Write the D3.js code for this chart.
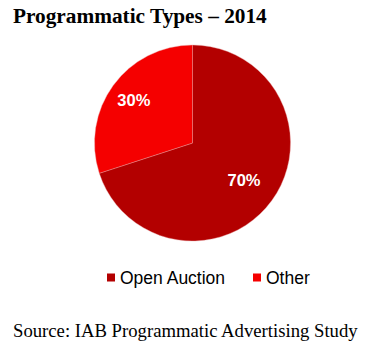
<!DOCTYPE html>
<html><head><meta charset="utf-8">
<script src="https://cdn.jsdelivr.net/npm/d3@7"></script>
<style>body{margin:0;background:#fff}</style>
</head><body>
<script>
const categories = ["Open Auction", "Other"];
const values = [70, 30];
const colors = ["#b30000", "#f50000"];
const title = "Programmatic Types – 2014";
const source = "Source: IAB Programmatic Advertising Study";

const W = 376, H = 355;
const svg = d3.select("body").append("svg").attr("width", W).attr("height", H);

function fitText(sel, width, base) {
  sel.attr("font-size", base);
  const len = sel.node().getComputedTextLength();
  sel.attr("font-size", base * width / len);
}

const t = svg.append("text").attr("x", 13).attr("y", 23)
  .attr("font-family", "'Liberation Serif', serif").attr("font-weight", "bold")
  .attr("fill", "#000").text(title);
fitText(t, 254, 17);

const cx = 192.5, cy = 143, r = 98;
const pie = d3.pie().sort(null).value(d => d)(values);
const arc = d3.arc().innerRadius(0).outerRadius(r);
const g = svg.append("g").attr("transform", `translate(${cx},${cy})`);
g.selectAll("path").data(pie).join("path")
  .attr("d", arc).attr("fill", (d, i) => colors[i])
  .attr("stroke", "#e8a0a0").attr("stroke-width", 0.4);

const labelFrac = [0.65, 0.74];
g.selectAll("text").data(pie).join("text")
  .attr("transform", (d, i) => {
    const rr = r * labelFrac[i];
    const c = d3.arc().innerRadius(rr).outerRadius(rr).centroid(d);
    return `translate(${c[0]},${c[1]})`;
  })
  .attr("text-anchor", "middle").attr("dy", "0.36em")
  .attr("font-family", "'Liberation Sans', Arial, sans-serif").attr("font-weight", "bold")
  .attr("font-size", 16.5).attr("fill", "#fff")
  .text(d => d.value + "%");

const legendX = [107, 253];
const lg = svg.append("g");
categories.forEach((c, i) => {
  lg.append("rect").attr("x", legendX[i]).attr("y", 273.5).attr("width", 8).attr("height", 8)
    .attr("fill", colors[i]);
  lg.append("text").attr("x", legendX[i] + 13).attr("y", 284)
    .attr("font-family", "'Liberation Sans', Arial, sans-serif").attr("font-size", 17.5)
    .attr("fill", "#000").text(c);
});

const s = svg.append("text").attr("x", 13).attr("y", 337)
  .attr("font-family", "'Liberation Serif', serif")
  .attr("fill", "#000").text(source);
fitText(s, 345, 16);
</script>
</body></html>
